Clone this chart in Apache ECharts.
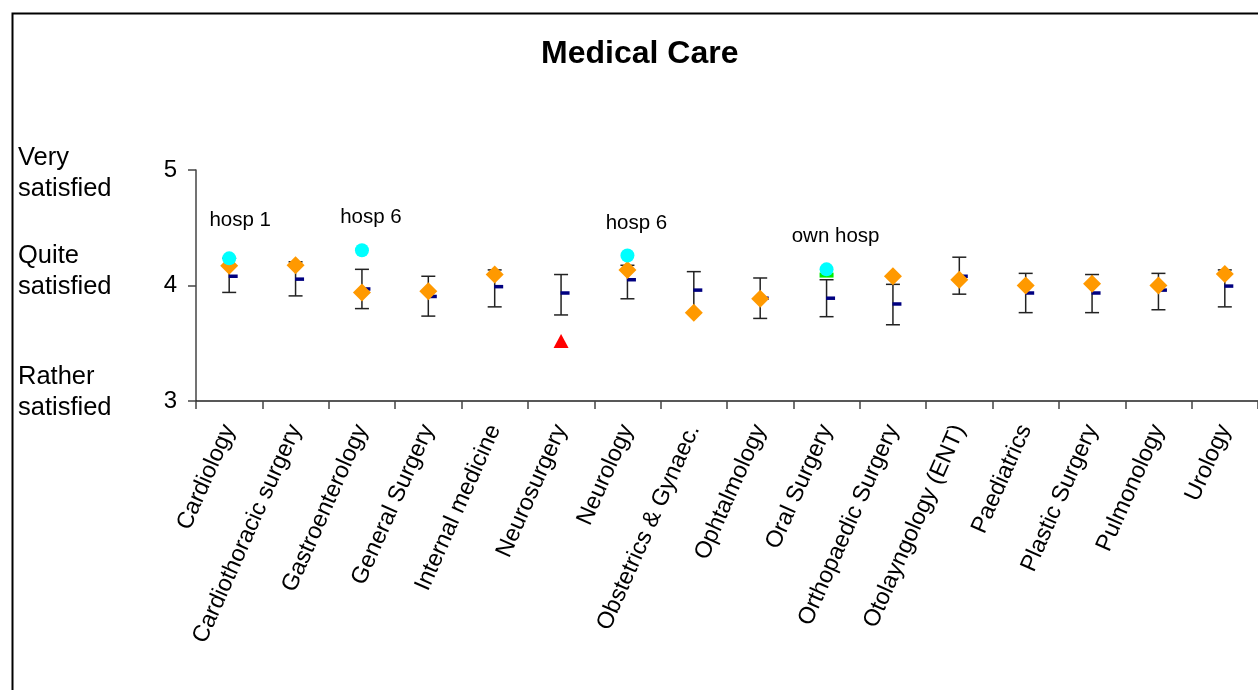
<!DOCTYPE html>
<html>
<head>
<meta charset="utf-8">
<style>
  html, body { margin: 0; padding: 0; background: #fff; }
  #main { width: 1258px; height: 690px; }
</style>
<script src="https://cdn.jsdelivr.net/npm/echarts@6/dist/echarts.min.js"></script>
</head>
<body>
<div id="main"></div>
<script>
// departments
var categories = ['Cardiology', 'Cardiothoracic surgery', 'Gastroenterology', 'General Surgery',
  'Internal medicine', 'Neurosurgery', 'Neurology', 'Obstetrics & Gynaec.', 'Ophtalmology',
  'Oral Surgery', 'Orthopaedic Surgery', 'Otolayngology (ENT)', 'Paediatrics', 'Plastic Surgery',
  'Pulmonology', 'Urology'];

// own hospital (orange diamonds)
var ownScore = [4.17, 4.175, 3.94, 3.95, 4.095, null, 4.135, 3.765, 3.885, null, 4.08, 4.05, 4.0, 4.015, 4.0, 4.1];
// mean of all hospitals (navy dash)
var meanScore = [4.08, 4.055, 3.97, 3.905, 3.99, 3.935, 4.05, 3.96, 3.89, 3.89, 3.84, 4.08, 3.935, 3.935, 3.96, 3.995];
// range (error bars)
var lowScore = [3.94, 3.91, 3.8, 3.735, 3.815, 3.745, 3.885, 3.765, 3.715, 3.73, 3.66, 3.925, 3.765, 3.765, 3.79, 3.815];
var highScore = [4.235, 4.205, 4.14, 4.08, 4.135, 4.095, 4.175, 4.12, 4.065, 4.05, 4.01, 4.245, 4.105, 4.095, 4.105, 4.135];
// best hospital (cyan) and its name
var bestScore = [4.235, null, 4.305, null, null, null, 4.26, null, null, 4.14, null, null, null, null, null, null];
var bestName = ['hosp 1', '', 'hosp 6', '', '', '', 'hosp 6', '', '', 'own hosp', '', '', '', '', '', ''];
// own hospital below range (red) / own hospital is best (green)
var belowScore = [null, null, null, null, null, 3.52, null, null, null, null, null, null, null, null, null, null];
var ownBestScore = [null, null, null, null, null, null, null, null, null, 4.09, null, null, null, null, null, null];

var yTicks = [3, 4, 5];
var sideLabels = ['Very\nsatisfied', 'Quite\nsatisfied', 'Rather\nsatisfied'];

var FONT = '"Liberation Sans", Arial, Helvetica, sans-serif';

var myChart = echarts.init(document.getElementById('main'));

function pairs(arr) {
  return arr.map(function (v, i) { return v == null ? [i, '-'] : [i, v]; });
}

var barData = categories.map(function (c, i) { return [i, lowScore[i], highScore[i]]; });

var bestData = [];
bestScore.forEach(function (v, i) {
  if (v == null) return;
  bestData.push({
    value: [i, v],
    label: { formatter: bestName[i], offset: i === 0 ? [11, -6] : [9, 0] }
  });
});

var option = {
  animation: false,
  backgroundColor: '#fff',
  title: {
    text: 'Medical Care',
    left: 536,
    top: 33,
    textStyle: { fontFamily: FONT, fontSize: 32, fontWeight: 'bold', color: '#000' }
  },
  graphic: [
    {
      type: 'rect',
      shape: { x: 12.5, y: 13.5, width: 1400, height: 900 },
      style: { fill: 'none', stroke: '#000', lineWidth: 2 },
      silent: true
    },
    { type: 'text', left: 18, top: 142, style: { text: sideLabels[0], font: '25.5px ' + FONT, lineHeight: 31, fill: '#000' } },
    { type: 'text', left: 18, top: 240, style: { text: sideLabels[1], font: '25.5px ' + FONT, lineHeight: 31, fill: '#000' } },
    { type: 'text', left: 18, top: 361, style: { text: sideLabels[2], font: '25.5px ' + FONT, lineHeight: 31, fill: '#000' } }
  ],
  grid: { left: 196, top: 170, bottom: 289, right: -10 },
  xAxis: {
    type: 'category',
    data: categories,
    boundaryGap: true,
    axisLine: { lineStyle: { color: '#222', width: 1.5 } },
    axisTick: { show: true, length: 8, lineStyle: { color: '#444', width: 1.5 } },
    axisLabel: {
      interval: 0,
      rotate: 66,
      margin: 25,
      fontFamily: FONT,
      fontSize: 23.5,
      color: '#000'
    },
    splitLine: { show: false }
  },
  yAxis: {
    type: 'value',
    min: yTicks[0],
    max: yTicks[yTicks.length - 1],
    interval: 1,
    axisLine: { show: true, lineStyle: { color: '#444', width: 1.5 } },
    axisTick: { show: true, length: 8, lineStyle: { color: '#444', width: 1.5 } },
    axisLabel: { margin: 19, fontFamily: FONT, fontSize: 24, color: '#000' },
    splitLine: { show: false }
  },
  series: [
    {
      type: 'custom',
      name: 'range',
      z: 1,
      data: barData,
      renderItem: function (params, api) {
        var lo = api.coord([api.value(0), api.value(1)]);
        var hi = api.coord([api.value(0), api.value(2)]);
        var cap = 7;
        var st = { stroke: '#222', lineWidth: 1.5 };
        return {
          type: 'group',
          children: [
            { type: 'line', shape: { x1: hi[0], y1: hi[1], x2: lo[0], y2: lo[1] }, style: st },
            { type: 'line', shape: { x1: hi[0] - cap, y1: hi[1], x2: hi[0] + cap, y2: hi[1] }, style: st },
            { type: 'line', shape: { x1: lo[0] - cap, y1: lo[1], x2: lo[0] + cap, y2: lo[1] }, style: st }
          ]
        };
      }
    },
    {
      type: 'scatter',
      name: 'mean',
      z: 2,
      data: pairs(meanScore),
      symbol: 'rect',
      symbolSize: [9, 3.5],
      symbolOffset: [4, 0],
      itemStyle: { color: '#000080', opacity: 1 }
    },
    {
      type: 'scatter',
      name: 'own hospital',
      z: 3,
      data: pairs(ownScore),
      symbol: 'diamond',
      symbolSize: 18,
      itemStyle: { color: '#FF9900', opacity: 1 }
    },
    {
      type: 'scatter',
      name: 'own below range',
      z: 3,
      data: pairs(belowScore),
      symbol: 'triangle',
      symbolSize: [15, 14],
      itemStyle: { color: '#FF0000', opacity: 1 }
    },
    {
      type: 'scatter',
      name: 'own best',
      z: 3,
      data: pairs(ownBestScore),
      symbol: 'rect',
      symbolSize: [14, 5],
      itemStyle: { color: '#00EE00', opacity: 1 }
    },
    {
      type: 'scatter',
      name: 'best hospital',
      z: 4,
      data: bestData,
      symbol: 'circle',
      symbolSize: 14,
      itemStyle: { color: '#00FFFF', opacity: 1 },
      label: {
        show: true,
        position: 'top',
        distance: 15,
        fontFamily: FONT,
        fontSize: 20.5,
        color: '#000'
      }
    }
  ]
};
myChart.setOption(option);
</script>
</body>
</html>
